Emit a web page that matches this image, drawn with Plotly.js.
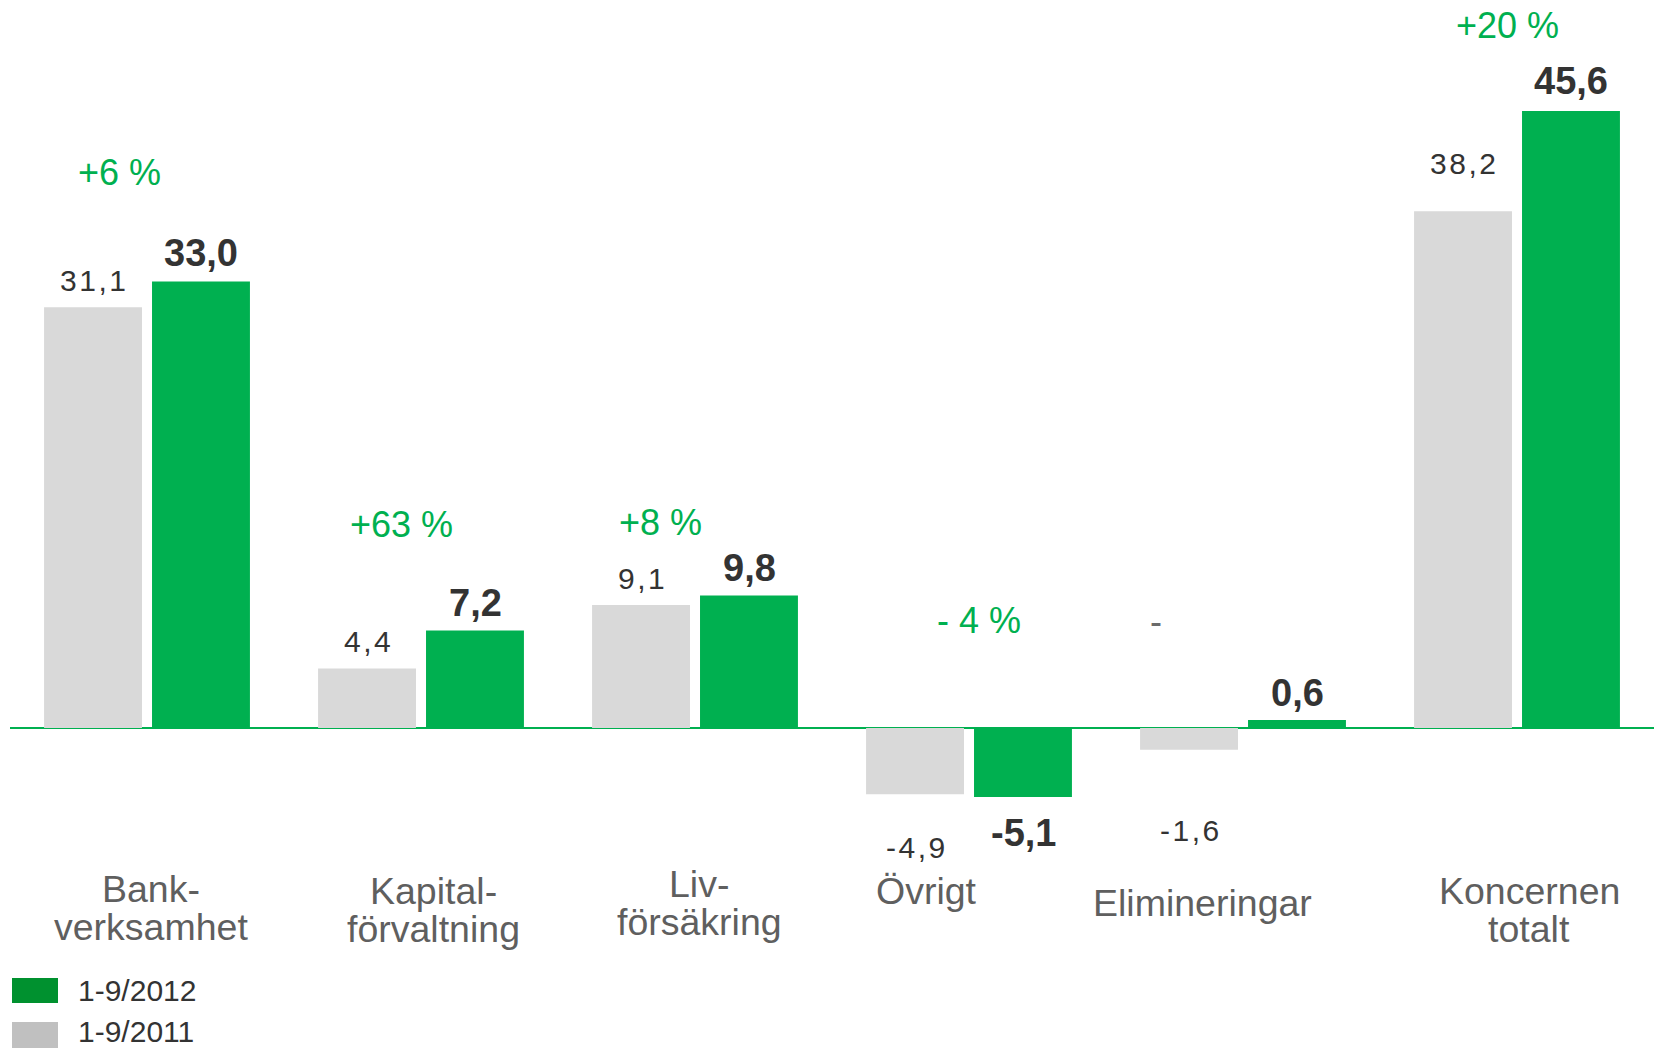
<!DOCTYPE html>
<html>
<head>
<meta charset="utf-8">
<script src="https://cdn.plot.ly/plotly-3.0.1.min.js"></script>
<style>html,body{margin:0;padding:0;background:#fff;}#chart{width:1654px;height:1050px;}</style>
</head>
<body>
<div id="chart"></div>
<script>
// ---- data ----
const categories = ['Bank-<br>verksamhet', 'Kapital-<br>förvaltning', 'Liv-<br>försäkring', 'Övrigt', 'Elimineringar', 'Koncernen<br>totalt'];
const series2011 = [31.1, 4.4, 9.1, -4.9, -1.6, 38.2];
const series2012 = [33.0, 7.2, 9.8, -5.1, 0.6, 45.6];
const changeLabels = ['+6 %', '+63 %', '+8 %', '- 4 %', '-', '+20 %'];
const name2011 = '1-9/2011';
const name2012 = '1-9/2012';

// ---- styling / label placement (pixels) ----
const GREEN = '#00B050', GRAY = '#D9D9D9', TEXT = '#333333', CATTEXT = '#5f5f5f';
const W = 1654, H = 1050, ML = 10;
const grayLift = [27, 26.5, 26, -53, -81, 47.5];
const greenLift = [28.5, 28, 27, -36, 27, 30];
const pctDx = [-28, -20, -35, 10, -87, -10];
const pctLift = [108.6, 105.6, 73.4, 108, 98, 86];
const catDx = [4, 12, 4, -43, -41, 12];
const catDrop = [161, 163, 156, 163, 175, 163];
const barOffsetPx = 54;

const fmt = v => v.toFixed(1).replace('.', ',');
const idx = categories.map((c, i) => i);

const traces = [
  {type: 'bar', name: name2011, x: idx, y: series2011, marker: {color: GRAY}, hoverinfo: 'skip'},
  {type: 'bar', name: name2012, x: idx, y: series2012, marker: {color: GREEN}, hoverinfo: 'skip'}
];

const ann = [];
const font = 'Liberation Sans, Arial, sans-serif';
idx.forEach(i => {
  ann.push({x: i, y: series2011[i], xref: 'x', yref: 'y', xshift: -barOffsetPx, yshift: grayLift[i],
    text: fmt(series2011[i]).split('').join('\u200A'), showarrow: false, xanchor: 'center', yanchor: 'middle',
    font: {family: font, size: 30, color: TEXT}});
  ann.push({x: i, y: series2012[i], xref: 'x', yref: 'y', xshift: barOffsetPx, yshift: greenLift[i],
    text: '<b>' + fmt(series2012[i]) + '</b>', showarrow: false, xanchor: 'center', yanchor: 'middle',
    font: {family: font, size: 38, color: TEXT}});
  const top = Math.max(series2011[i], series2012[i], 0);
  ann.push({x: i, y: top, xref: 'x', yref: 'y', xshift: pctDx[i], yshift: pctLift[i],
    text: changeLabels[i], showarrow: false, xanchor: 'center', yanchor: 'middle',
    font: {family: font, size: 36, color: changeLabels[i] === '-' ? '#6b6b6b' : GREEN}});
  const lines = categories[i].split('<br>');
  lines.forEach((ln, k) => {
    ann.push({x: i, y: 0, xref: 'x', yref: 'y', xshift: catDx[i], yshift: -(catDrop[i] + k * 38),
      text: ln, showarrow: false, xanchor: 'center', yanchor: 'middle',
      font: {family: font, size: 37.5, color: CATTEXT}});
  });
});

// custom legend
const px = p => (p - ML) / (W - ML);
const py = p => 1 - p / H;
const legendItems = [
  {name: name2012, color: '#00912F', top: 978, bottom: 1003, textY: 990},
  {name: name2011, color: '#C0C0C0', top: 1022, bottom: 1048, textY: 1031}
];
const shapes = legendItems.map(it => ({type: 'rect', xref: 'paper', yref: 'paper',
  x0: px(12), x1: px(58), y0: py(it.bottom), y1: py(it.top), fillcolor: it.color, line: {width: 0}}));
legendItems.forEach(it => {
  ann.push({xref: 'paper', yref: 'paper', x: px(77), y: py(it.textY),
    text: it.name, showarrow: false, xanchor: 'left', yanchor: 'middle', borderpad: 0,
    font: {family: font, size: 30, color: TEXT}});
});

const scale = 13.53;
const layout = {
  width: W, height: H,
  margin: {l: ML, r: 0, t: 0, b: 0, pad: 0},
  paper_bgcolor: '#fff', plot_bgcolor: '#fff',
  showlegend: false,
  barmode: 'group', bargap: 0.212, bargroupgap: 0.093,
  xaxis: {type: 'linear', range: [-0.5, 5.5], showgrid: false, zeroline: false, showticklabels: false, showline: false, fixedrange: true},
  yaxis: {range: [-(H - 728) / scale, 728 / scale], showgrid: false, zeroline: true, zerolinecolor: GREEN, zerolinewidth: 2,
    showticklabels: false, showline: false, fixedrange: true},
  annotations: ann,
  shapes: shapes,
  font: {family: font}
};

Plotly.newPlot('chart', traces, layout, {displayModeBar: false, staticPlot: true});
</script>
</body>
</html>
